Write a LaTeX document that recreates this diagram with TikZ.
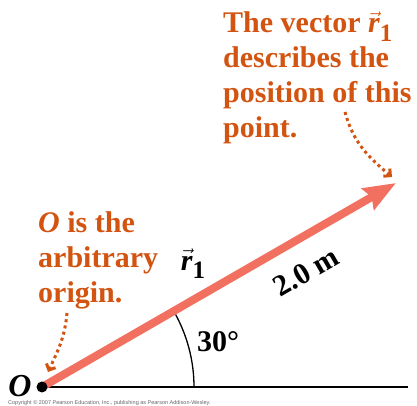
\documentclass[tikz,border=0pt]{standalone}
\usepackage{fontspec}
\setmainfont{Liberation Serif}
\newfontfamily\cpyfont{Liberation Sans}
\usetikzlibrary{arrows.meta}
\definecolor{txtorange}{RGB}{210,84,16}
\definecolor{vecsalmon}{RGB}{242,112,95}
\newcommand\myvecr{$\vec{\mbox{\bfseries\itshape r}}$\raisebox{-0.28em}{\fontsize{25}{25}\selectfont\bfseries 1}}
\begin{document}
\begin{tikzpicture}[x=1pt,y=1pt,
  note/.style={text=txtorange, font=\fontsize{30}{35}\selectfont\bfseries, align=left, inner sep=0pt, anchor=base west},
  lbl/.style={text=black, font=\fontsize{30}{35}\selectfont\bfseries, inner sep=0pt},
  pointer/.style={draw=txtorange, line width=3pt, dash pattern=on 3pt off 3.3pt,
    -{Straight Barb[angle'=90,length=5pt,line width=3pt]}},
  vecarrow/.style={draw=vecsalmon, line width=8pt, -{Stealth[length=32pt,width=24pt,inset=4pt]}},
  axis/.style={draw=black, line width=1.8pt},
  anglearc/.style={draw=black, line width=1.3pt},
]
\useasboundingbox (0,0) rectangle (417,406);
\coordinate (O) at (42,19);
\coordinate (tip) at (396,223);
\coordinate (xend) at (408,19);
% axis and angle arc
\draw[axis] (O) -- (xend);
\draw[anglearc] ([shift={(0:152)}]O) arc[start angle=0,end angle=30,radius=152];
% vector
\draw[vecarrow] (O) -- (tip);
\fill[black] (O) circle (5.5);
% labels
\node[lbl, font=\fontsize{32}{35}\selectfont\bfseries\itshape] (Olbl) at (20,20) {O};
\node[lbl] (ang) at (218,64) {30°};
\node[lbl, rotate=30] (len) at (306,134) {2.0 m};
\node[lbl] (r1) at (193,142) {\myvecr};
% notes (anchored at the baseline of their last line)
\node[note] (rnote) at (223,268) {The vector \myvecr\\describes the\\position of this\\point.};
\node[note] (lnote) at (38,103) {\textit{O} is the\\arbitrary\\origin.};
% pointers
\coordinate (rs) at (345,294);
\coordinate (re) at (392,229);
\coordinate (ls) at (67,93);
\coordinate (le) at (48,34);
\draw[pointer] (rs) to[out=-75,in=140] (re);
\draw[pointer] (ls) to[out=-95,in=65] (le);
% copyright
\node[inner sep=0pt, anchor=base west, text=black!60, font=\cpyfont\fontsize{5.5}{6}\selectfont] (copy) at (8,1.5) {Copyright © 2007 Pearson Education, Inc., publishing as Pearson Addison-Wesley.};
\end{tikzpicture}
\end{document}
